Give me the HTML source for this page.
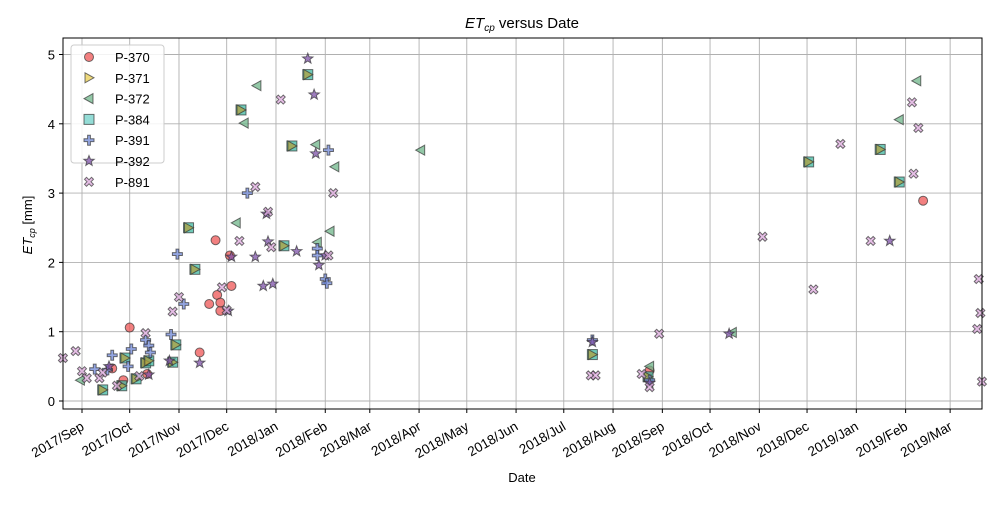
<!DOCTYPE html>
<html><head><meta charset="utf-8"><style>
body{margin:0;background:#fff;font-family:"Liberation Sans","DejaVu Sans",sans-serif}
</style></head><body>
<svg id="chart" width="1000" height="500" xmlns="http://www.w3.org/2000/svg" font-family="Liberation Sans, DejaVu Sans, sans-serif"></svg>
<script>
// days since 2017-09-01
const yTicks=[0,1,2,3,4,5];
const monthLabels=["2017/Sep","2017/Oct","2017/Nov","2017/Dec","2018/Jan","2018/Feb","2018/Mar","2018/Apr","2018/May","2018/Jun","2018/Jul","2018/Aug","2018/Sep","2018/Oct","2018/Nov","2018/Dec","2019/Jan","2019/Feb","2019/Mar"];
const monthDays=[0,30,61,91,122,153,181,212,242,273,303,334,365,395,426,456,487,518,546];
const seriesNames=["P-370","P-371","P-372","P-384","P-391","P-392","P-891"];
const p370Days=[30,19,41,26,74,80,84,85,87,87,93,94,357,529];
const p370Vals=[1.06,0.47,0.39,0.30,0.70,1.40,2.32,1.53,1.30,1.42,2.10,1.66,0.44,2.89];
const p384Days=[13,25,27,34,40,42,57,59,67,71,100,127,132,142,321,356,457,502,514];
const p384Vals=[0.16,0.22,0.62,0.32,0.55,0.58,0.56,0.81,2.50,1.90,4.20,2.24,3.68,4.71,0.67,0.35,3.45,3.63,3.16];
const p371Days=p384Days.slice();
const p371Vals=p384Vals.slice();
const p372Days=[-1,97,102,110,147,148,156,159,213,409,525,514,357];
const p372Vals=[0.30,2.57,4.01,4.55,3.70,2.29,2.45,3.38,3.62,0.99,4.62,4.06,0.50];
const p391Days=[8,16,19,29,31,40,42,43,56,60,64,104,148,148,153,154,155,321,357];
const p391Vals=[0.46,0.45,0.66,0.50,0.75,0.88,0.80,0.70,0.96,2.12,1.40,3.00,2.20,2.10,1.76,1.70,3.62,0.88,0.30];
const p392Days=[17,42,55,74,92,94,109,114,116,117,120,135,142,146,147,149,153,321,407,508,357];
const p392Vals=[0.50,0.38,0.58,0.55,1.30,2.08,2.08,1.66,2.70,2.30,1.69,2.16,4.94,4.42,3.57,1.96,2.10,0.85,0.97,2.31,0.26];
const p891Days=[-12,-4,0,3,11,13,22,36,40,57,61,88,91,99,109,117,119,125,155,158,320,323,352,357,363,428,460,477,496,522,523,526,564,565,563,566];
const p891Vals=[0.62,0.72,0.43,0.33,0.33,0.41,0.22,0.36,0.98,1.29,1.50,1.64,1.31,2.31,3.09,2.73,2.22,4.35,2.10,3.00,0.37,0.37,0.39,0.20,0.97,2.37,1.61,3.71,2.31,4.31,3.28,3.94,1.76,1.27,1.04,0.28];

const L=63,R=982,T=38,B=409;
const x=d=>82+d*1.59;
const y=v=>401-v*69.3;
const svg=document.getElementById('chart');
const NS="http://www.w3.org/2000/svg";
function mk(tag,attrs,parent){const e=document.createElementNS(NS,tag);for(const k in attrs)e.setAttribute(k,attrs[k]);(parent||svg).appendChild(e);return e;}

// grid
const grid=mk('g',{});


monthDays.forEach(d=>{mk('line',{x1:x(d),x2:x(d),y1:T,y2:B,stroke:'#b0b0b0','stroke-width':0.9},grid);});
yTicks.forEach(v=>{mk('line',{x1:L,x2:R,y1:y(v),y2:y(v),stroke:'#b0b0b0','stroke-width':0.9},grid);});

// ticks & labels
const xt=mk('g',{});


monthDays.forEach((d,i)=>{
  mk('line',{x1:x(d),x2:x(d),y1:B,y2:B+4,stroke:'#000'},xt);
  const tx=x(d)+3,ty=B+20;
  const t=mk('text',{x:tx,y:ty,'font-size':13.5,'text-anchor':'end',transform:`rotate(-30 ${tx} ${ty})`},xt);
  t.textContent=monthLabels[i];
});
const yt=mk('g',{});


yTicks.forEach(v=>{
  mk('line',{x1:L-4,x2:L,y1:y(v),y2:y(v),stroke:'#000'},yt);
  const t=mk('text',{x:L-8,y:y(v)+5,'font-size':13,'text-anchor':'end'},yt);
  t.textContent=v;
});

// markers
function marker(type,cx,cy,fill,g){
  const st={fill:fill,stroke:'#333','stroke-opacity':0.7,'fill-opacity':0.75,'stroke-width':1};
  let e;
  if(type==='circle')e=mk('circle',Object.assign({cx:cx,cy:cy,r:4.5},st),g);
  else if(type==='right')e=mk('polygon',Object.assign({points:`${cx-4},${cy-5} ${cx+5},${cy} ${cx-4},${cy+5}`},st),g);
  else if(type==='left')e=mk('polygon',Object.assign({points:`${cx+4},${cy-5} ${cx-5},${cy} ${cx+4},${cy+5}`},st),g);
  else if(type==='square')e=mk('rect',Object.assign({x:cx-5,y:cy-5,width:10,height:10},st),g);
  else if(type==='plus')e=mk('path',Object.assign({d:`M${cx-1.4},${cy-5}h2.8v3.6h3.6v2.8h-3.6v3.6h-2.8v-3.6h-3.6v-2.8h3.6z`},st),g);
  else if(type==='star'){let p=[];for(let i=0;i<10;i++){const a=-Math.PI/2+i*Math.PI/5,r=i%2?2.3:5.5;p.push((cx+r*Math.cos(a)).toFixed(1)+','+(cy+r*Math.sin(a)).toFixed(1));}e=mk('polygon',Object.assign({points:p.join(' ')},st),g);}
  else if(type==='x')e=mk('path',Object.assign({d:`M${cx-4.5},${cy-2.5}l2,-2l2.5,2.5l2.5,-2.5l2,2l-2.5,2.5l2.5,2.5l-2,2l-2.5,-2.5l-2.5,2.5l-2,-2l2.5,-2.5z`},st),g);
  return e;
}
const series=[
 ['p-370','circle','#ee5555',p370Days,p370Vals],
 ['p-372','left','#6fb58a',p372Days,p372Vals],
 ['p-384','square','#3fb8a0',p384Days,p384Vals],
 ['p-371','right','#b0a040',p371Days,p371Vals],
 ['p-391','plus','#7088d8',p391Days,p391Vals],
 ['p-392','star','#7e52a8',p392Days,p392Vals],
 ['p-891','x','#dca8dc',p891Days,p891Vals]
];
series.forEach(s=>{
  const g=mk('g',{});
  
  
  s[3].forEach((d,i)=>{
    const e=marker(s[1],x(d),y(s[4][i]),s[2],g);
    
    
  });
});

// axes frame
const fr=mk('rect',{x:L,y:T,width:R-L,height:B-T,fill:'none',stroke:'#000','stroke-width':1});



// legend
const lg=mk('g',{});


mk('rect',{x:71,y:45,width:93,height:118,rx:3,fill:'#fff','fill-opacity':0.85,stroke:'#ccc'},lg);
const legTypes=['circle','right','left','square','plus','star','x'];
const legCols=['#ee5555','#e8cc50','#6fb58a','#70d0c8','#7088d8','#7e52a8','#dca8dc'];
seriesNames.forEach((n,i)=>{
  const cy=57+i*20.8;
  const e=marker(legTypes[i],89,cy,legCols[i],lg);
  
  
  const t=mk('text',{x:115,y:cy+5,'font-size':13},lg);
  
  
  t.textContent=n;
});

// titles
const ti=mk('text',{x:522,y:28,'font-size':15,'text-anchor':'middle'});


ti.innerHTML='<tspan font-style="italic">ET</tspan><tspan font-style="italic" font-size="10" dy="3">cp</tspan><tspan dy="-3"> versus Date</tspan>';
const xl=mk('text',{x:522,y:482,'font-size':13,'text-anchor':'middle'});


xl.textContent='Date';
const yl=mk('text',{x:0,y:0,'font-size':13,'text-anchor':'middle',transform:'translate(32 225) rotate(-90)'});


yl.innerHTML='<tspan font-style="italic">ET</tspan><tspan font-style="italic" font-size="9" dy="3">cp</tspan><tspan dy="-3"> [mm]</tspan>';
</script>
</body></html>
